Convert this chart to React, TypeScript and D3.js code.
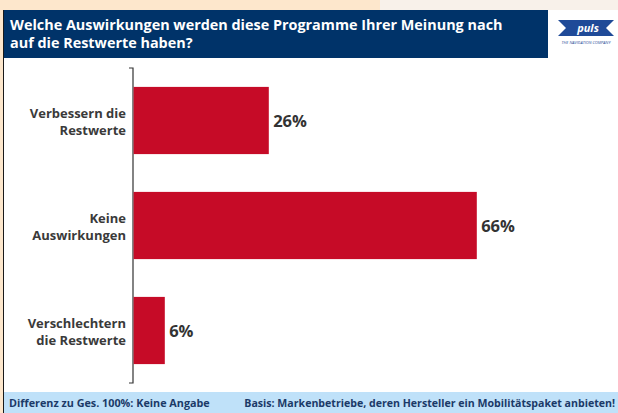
import React from 'react'
import * as d3 from 'd3'

const categories = [['Verbessern die', 'Restwerte'], ['Keine', 'Auswirkungen'], ['Verschlechtern', 'die Restwerte']]
const values = [26, 66, 6]
const valueLabels = ['26%', '66%', '6%']

const title = ['Welche Auswirkungen werden diese Programme Ihrer Meinung nach', 'auf die Restwerte haben?']
const footLeft = 'Differenz zu Ges. 100%: Keine Angabe'
const footRight = 'Basis: Markenbetriebe, deren Hersteller ein Mobilitätspaket anbieten!'

const W = 618
const H = 413
const font = "'Open Sans', 'Noto Sans', sans-serif"

export default function App() {
  const x = d3.scaleLinear().domain([0, 100]).range([133, 653])
  const y = d3.scaleBand().domain(categories.map((d, i) => String(i))).range([68, 383]).paddingInner(0.36).paddingOuter(0.18)

  return (
    <svg width={W} height={H} style={{ position: 'absolute', left: 0, top: 0 }} fontFamily={font}>
      {/* frame */}
      <rect x={0} y={0} width={W} height={H} fill="#fde7cc" />
      <rect x={380} y={0} width={W - 380} height={10} fill="#f8f1ea" />
      <rect x={3} y={10} width={W - 3} height={H - 10} fill="#1a1a1a" />
      <rect x={4} y={10} width={W - 4} height={H - 10} fill="#ffffff" />

      {/* header */}
      <rect x={4} y={10} width={544} height={48} fill="#003369" />
      {title.map((t, i) => (
        <text key={i} x={10} y={30 + i * 18} fill="#ffffff" fontSize={14.4} fontWeight="bold">{t}</text>
      ))}

      {/* logo */}
      <g transform="translate(586,28)">
        <polygon points="-28,-8 28,-8 20,0 28,8 -28,8 -20,0" fill="#1f4a98" />
        <text x={2} y={4} fill="#ffffff" fontSize={11} fontWeight="bold" fontStyle="italic" textAnchor="middle">puls</text>
        <text x={0} y={16} fill="#1f4a98" fontSize={4} textAnchor="middle" fontStyle="italic">THE NAVIGATION COMPANY</text>
      </g>

      {/* axis */}
      <path d={`M129,${y.range()[0]}H133V${y.range()[1]}H129`} fill="none" stroke="#333333" strokeWidth={1.2} />

      {/* bars */}
      {values.map((v, i) => {
        const by = y(String(i)) as number
        const cy = by + y.bandwidth() / 2
        return (
          <g key={i}>
            <rect x={x(0) + 0.6} y={by} width={x(v) - x(0)} height={y.bandwidth()} fill="#c60b27" />
            <text x={x(v) + 5} y={cy + 6} fill="#333333" fontSize={16.5} fontWeight="bold">{valueLabels[i]}</text>
            {categories[i].map((l, j) => (
              <text key={j} x={126} y={cy - 3 + j * 17} fill="#3a3a3a" fontSize={13} fontWeight="bold" textAnchor="end">{l}</text>
            ))}
          </g>
        )
      })}

      {/* footer */}
      <rect x={4} y={392} width={W - 4} height={21} fill="#bfe1f9" />
      <text x={9} y={407} fill="#1b3a68" fontSize={10.8} fontWeight="bold">{footLeft}</text>
      <text x={615} y={407} fill="#1b3a68" fontSize={10.6} fontWeight="bold" textAnchor="end">{footRight}</text>
    </svg>
  )
}
